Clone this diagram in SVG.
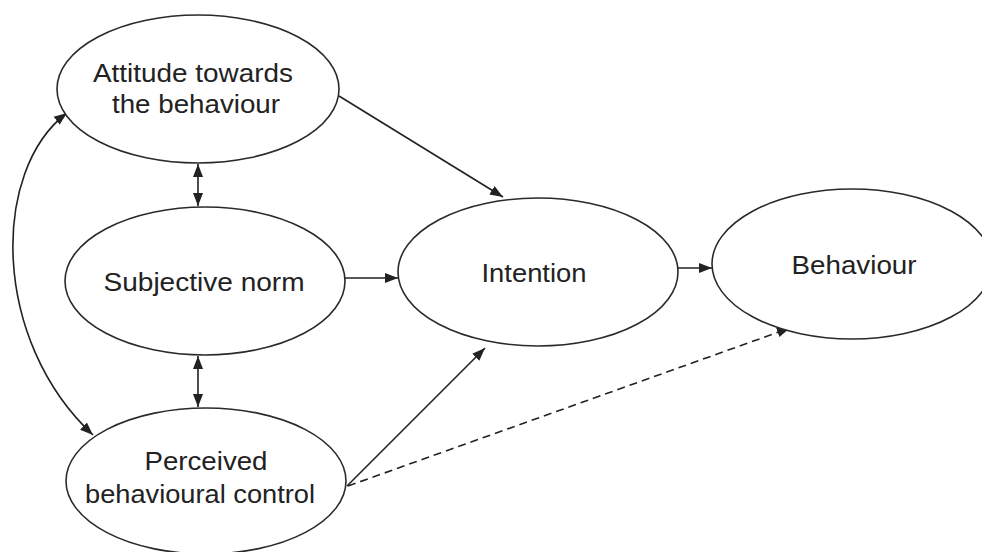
<svg xmlns="http://www.w3.org/2000/svg" width="982" height="552" viewBox="0 0 982 552">
<style>
.node ellipse{fill:#fff;stroke:#2a2a2a;stroke-width:1.6}
.node text{font-family:"Liberation Sans",Arial,sans-serif;font-size:26px;fill:#222;text-anchor:middle}
.edge{fill:none;stroke:#222;stroke-width:1.6}
.dash{stroke-dasharray:8,5}
</style>
<defs>
<marker id="ah" markerUnits="userSpaceOnUse" markerWidth="14" markerHeight="12" refX="13" refY="5" orient="auto-start-reverse" viewBox="0 0 14 10">
<path d="M0,0 L13,5 L0,10 z" fill="#222"/>
</marker>
</defs>
<rect width="982" height="552" fill="#fff"/>
<g id="connectors">
<path class="edge" d="M339,96 L503,197" marker-end="url(#ah)"/>
<path class="edge" d="M198,164 L198,206" marker-start="url(#ah)" marker-end="url(#ah)"/>
<path class="edge" d="M345,278 L398,278" marker-end="url(#ah)"/>
<path class="edge" d="M198,356 L198,407" marker-start="url(#ah)" marker-end="url(#ah)"/>
<path class="edge" d="M347,486 L485,348" marker-end="url(#ah)"/>
<path class="edge dash" d="M348,486 L790,328" marker-end="url(#ah)"/>
<path class="edge" d="M678,268 L712,268" marker-end="url(#ah)"/>
<path class="edge" d="M67,113 C-9,170 -9,340 93,435" marker-start="url(#ah)" marker-end="url(#ah)"/>
</g>
<g id="attitude" class="node">
<ellipse cx="198" cy="89" rx="141" ry="74"/>
<text x="193" y="82" textLength="200" lengthAdjust="spacingAndGlyphs">Attitude towards</text>
<text x="196" y="113" textLength="168" lengthAdjust="spacingAndGlyphs">the behaviour</text>
</g>
<g id="subjective" class="node">
<ellipse cx="205" cy="281" rx="140" ry="74"/>
<text x="204" y="291" textLength="201" lengthAdjust="spacingAndGlyphs">Subjective norm</text>
</g>
<g id="perceived" class="node">
<ellipse cx="206" cy="481" rx="140" ry="73"/>
<text x="206" y="470" textLength="123" lengthAdjust="spacingAndGlyphs">Perceived</text>
<text x="200" y="503" textLength="230" lengthAdjust="spacingAndGlyphs">behavioural control</text>
</g>
<g id="intention" class="node">
<ellipse cx="538" cy="272" rx="140" ry="74"/>
<text x="534" y="282" textLength="105" lengthAdjust="spacingAndGlyphs">Intention</text>
</g>
<g id="behaviour" class="node">
<ellipse cx="852" cy="264" rx="140" ry="75"/>
<text x="854" y="274" textLength="125" lengthAdjust="spacingAndGlyphs">Behaviour</text>
</g>
</svg>
